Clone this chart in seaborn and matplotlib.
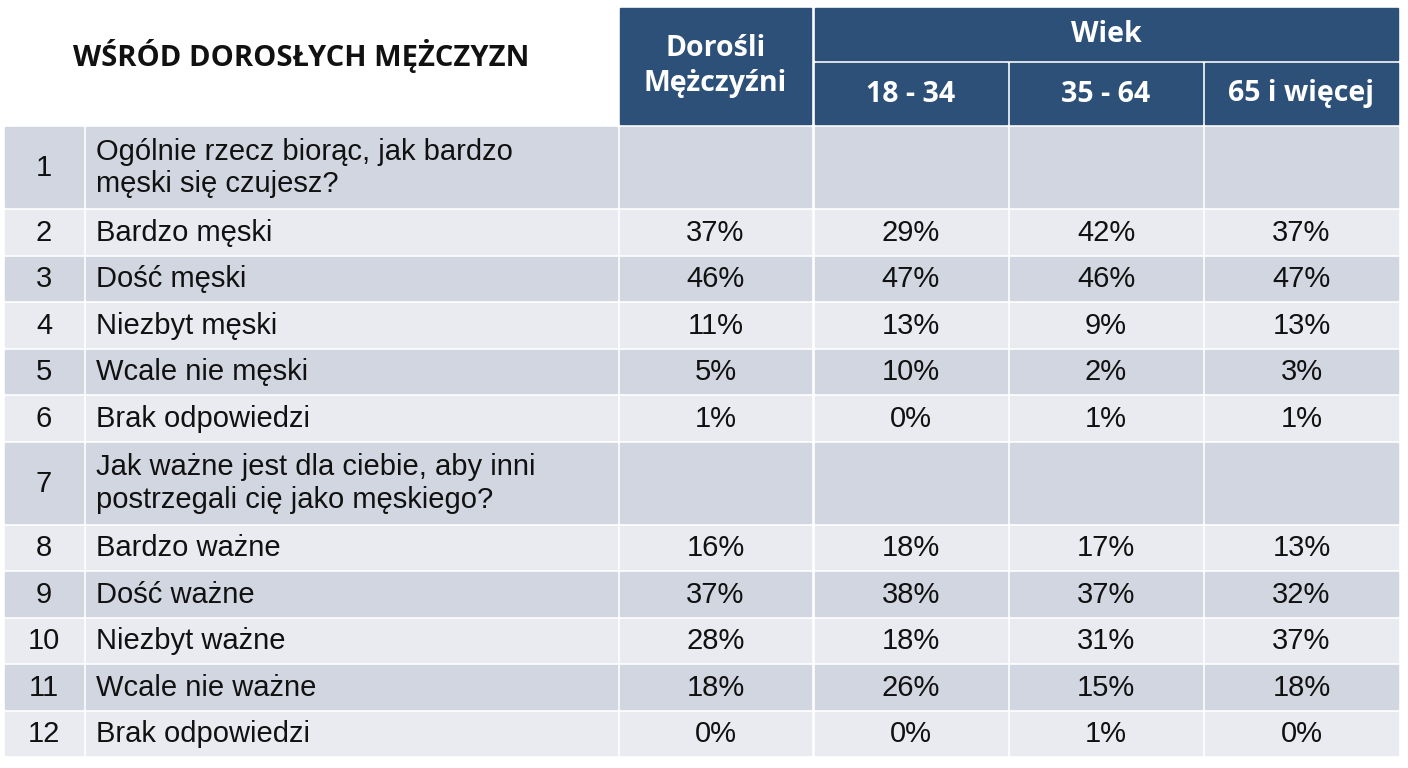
import matplotlib
matplotlib.use("Agg")
import matplotlib.pyplot as plt
from matplotlib.patches import Rectangle
import seaborn as sns

sns.set_theme(style="white")
plt.rcParams['font.family'] = ['Liberation Sans', 'DejaVu Sans']

# --- dane tabeli ---
title = "WŚRÓD DOROSŁYCH MĘŻCZYZN"
col_headers = ["Dorośli\nMężczyźni", "18 - 34", "35 - 64", "65 i więcej"]
group_header = "Wiek"
row_labels = [
    "Ogólnie rzecz biorąc, jak bardzo\nmęski się czujesz?",
    "Bardzo męski", "Dość męski", "Niezbyt męski", "Wcale nie męski", "Brak odpowiedzi",
    "Jak ważne jest dla ciebie, aby inni\npostrzegali cię jako męskiego?",
    "Bardzo ważne", "Dość ważne", "Niezbyt ważne", "Wcale nie ważne", "Brak odpowiedzi",
]
doro = ["", "37%", "46%", "11%", "5%", "1%", "", "16%", "37%", "28%", "18%", "0%"]
w18 = ["", "29%", "47%", "13%", "10%", "0%", "", "18%", "38%", "18%", "26%", "0%"]
w35 = ["", "42%", "46%", "9%", "2%", "1%", "", "17%", "37%", "31%", "15%", "1%"]
w65 = ["", "37%", "47%", "13%", "3%", "1%", "", "13%", "32%", "37%", "18%", "0%"]

# --- układ ---
W, H = 1408, 768
header_blue = "#2c5077"
dark_row = "#d1d6e0"
light_row = "#e9ebf0"
col_x = [(5, 83), (86, 617), (620, 811), (815, 1007), (1010, 1202), (1205, 1398)]
row_heights = [80, 43.5, 43.5, 43.5, 43.5, 43.5, 80, 43.5, 43.5, 43.5, 43.5, 43.5]
gap = 3
body_top = 127
hfont = ["Open Sans", "DejaVu Sans"]

fig = plt.figure(figsize=(W / 100, H / 100), dpi=100)
ax = fig.add_axes([0, 0, 1, 1])
ax.set_xlim(0, W)
ax.set_ylim(H, 0)
ax.axis("off")

# nagłówek
ax.text(301, 56, title, ha="center", va="center", fontsize=21, fontweight="bold",
        family=hfont, color="#111111")
x0, x1 = col_x[2]
ax.add_patch(Rectangle((x0, 8), x1 - x0, 116, color=header_blue))
ax.text((x0 + x1) / 2, 66, col_headers[0], ha="center", va="center", fontsize=20.5,
        fontweight="bold", color="white", family=hfont, linespacing=1.3)
gx0, gx1 = col_x[3][0], col_x[5][1]
ax.add_patch(Rectangle((gx0, 8), gx1 - gx0, 52, color=header_blue))
ax.text((gx0 + gx1) / 2, 35, group_header, ha="center", va="center", fontsize=20.5,
        fontweight="bold", color="white", family=hfont)
for (a, b), lab in zip(col_x[3:], col_headers[1:]):
    ax.add_patch(Rectangle((a, 63), b - a, 61, color=header_blue))
    ax.text((a + b) / 2, 94, lab, ha="center", va="center", fontsize=20.5,
            fontweight="bold", color="white", family=hfont)

# wiersze
y = body_top
for i, h in enumerate(row_heights):
    fc = dark_row if i % 2 == 0 else light_row
    for a, b in col_x:
        ax.add_patch(Rectangle((a, y), b - a, h, color=fc))
    cy = y + h / 2 + 1
    ax.text((col_x[0][0] + col_x[0][1]) / 2, cy, str(i + 1), ha="center", va="center",
            fontsize=21, color="#111111")
    ax.text(96, cy, row_labels[i], ha="left", va="center", fontsize=21,
            color="#111111", linespacing=1.2)
    for (a, b), vals in zip(col_x[2:], [doro, w18, w35, w65]):
        ax.text((a + b) / 2, cy, vals[i], ha="center", va="center", fontsize=21,
                color="#111111")
    y += h + gap

fig.savefig("out.png", dpi=100, facecolor="white")
